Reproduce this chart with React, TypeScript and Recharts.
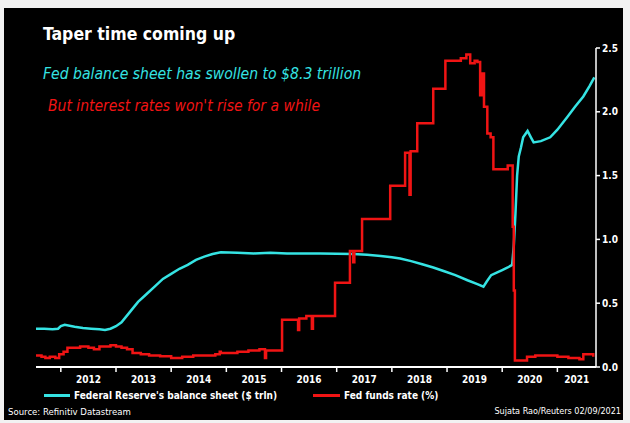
import { Line, LineChart, XAxis, YAxis } from "recharts";

// Fed balance sheet, plotted on the chart's 0-2.5 scale
const balanceDates = [
  2011.55, 2011.7, 2011.85, 2011.95, 2012.0, 2012.07, 2012.25, 2012.4, 2012.55, 2012.7, 2012.8, 2012.9,
  2013.0, 2013.1, 2013.25, 2013.4, 2013.55, 2013.7, 2013.85, 2014.0, 2014.15, 2014.3, 2014.45, 2014.6,
  2014.75, 2014.9, 2015.2, 2015.5, 2015.8, 2016.1, 2016.4, 2016.7, 2017.0, 2017.3, 2017.55, 2017.8,
  2018.0, 2018.15, 2018.35, 2018.55, 2018.75, 2018.95, 2019.15, 2019.37, 2019.55, 2019.66, 2019.72,
  2019.8, 2019.9, 2020.0, 2020.1, 2020.18, 2020.21, 2020.24, 2020.27, 2020.3, 2020.34, 2020.38, 2020.46,
  2020.52, 2020.57, 2020.7, 2020.87, 2021.0, 2021.18, 2021.32, 2021.47, 2021.58, 2021.67,
];
const balanceValues = [
  0.3, 0.3, 0.295, 0.3, 0.32, 0.33, 0.315, 0.305, 0.3, 0.295, 0.29, 0.3,
  0.32, 0.35, 0.43, 0.51, 0.57, 0.63, 0.69, 0.73, 0.77, 0.8, 0.84, 0.865,
  0.885, 0.9, 0.895, 0.89, 0.895, 0.89, 0.89, 0.89, 0.888, 0.885, 0.88, 0.87,
  0.86, 0.85, 0.83, 0.805, 0.78, 0.75, 0.72, 0.68, 0.65, 0.63, 0.67,
  0.72, 0.74, 0.76, 0.78, 0.8, 0.95, 1.2, 1.5, 1.65, 1.72, 1.8, 1.85,
  1.8, 1.76, 1.77, 1.8, 1.86, 1.96, 2.04, 2.12, 2.2, 2.27,
];

// Effective fed funds rate (%)
const rateDates = [
  2011.55, 2011.65, 2011.72, 2011.8, 2011.9, 2011.97, 2012.05, 2012.12, 2012.25, 2012.35, 2012.5, 2012.6,
  2012.7, 2012.8, 2012.9, 2013.0, 2013.1, 2013.2, 2013.3, 2013.45, 2013.6, 2013.8, 2014.0, 2014.2,
  2014.4, 2014.6, 2014.8, 2014.88, 2014.9, 2015.0, 2015.2, 2015.4, 2015.6, 2015.7, 2015.72, 2015.85,
  2016.01, 2016.2, 2016.3, 2016.32, 2016.45, 2016.55, 2016.57, 2016.75, 2016.97, 2017.24, 2017.3,
  2017.32, 2017.46, 2017.97, 2018.24, 2018.32, 2018.34, 2018.46, 2018.75, 2018.97, 2019.1, 2019.25,
  2019.35, 2019.42, 2019.5, 2019.55, 2019.6, 2019.64, 2019.67, 2019.73, 2019.79, 2019.84, 2020.0,
  2020.1, 2020.16, 2020.19, 2020.21, 2020.23, 2020.35, 2020.45, 2020.6, 2020.8, 2021.0, 2021.2,
  2021.4, 2021.47, 2021.58, 2021.65,
];
const rateValues = [
  0.09, 0.08, 0.07, 0.08, 0.07, 0.1, 0.12, 0.15, 0.15, 0.16, 0.15, 0.14,
  0.16, 0.16, 0.17, 0.16, 0.15, 0.14, 0.11, 0.1, 0.09, 0.085, 0.07, 0.08,
  0.09, 0.09, 0.1, 0.12, 0.11, 0.11, 0.12, 0.13, 0.14, 0.07, 0.13, 0.13,
  0.37, 0.37, 0.29, 0.38, 0.4, 0.3, 0.4, 0.4, 0.66, 0.91, 0.82,
  0.91, 1.16, 1.42, 1.68, 1.35, 1.69, 1.91, 2.18, 2.4, 2.4, 2.42,
  2.45, 2.38, 2.4, 2.39, 2.13, 2.3, 2.04, 1.83, 1.8, 1.55, 1.55,
  1.58, 1.58, 1.1, 0.6, 0.05, 0.05, 0.08, 0.09, 0.09, 0.08, 0.07,
  0.06, 0.1, 0.1, 0.08,
];

const yearTicks = [2012, 2013, 2014, 2015, 2016, 2017, 2018, 2019, 2020, 2021];
const rightTicks = [0, 0.5, 1, 1.5, 2, 2.5];

const title = "Taper time coming up";
const subtitleBalance = "Fed balance sheet has swollen to $8.3 trillion";
const subtitleRate = "But interest rates won't rise for a while";
const legendBalance = "Federal Reserve's balance sheet ($ trln)";
const legendRate = "Fed funds rate (%)";
const source = "Source: Refinitiv Datastream";
const credit = "Sujata Rao/Reuters 02/09/2021";

const balanceData = balanceDates.map((t, i) => ({ t, v: balanceValues[i] }));
const rateData = rateDates.map((t, i) => ({ t, v: rateValues[i] }));

const X_MIN = 2011.55;
const X_MAX = 2021.7;
const PLOT_W = 560;
const pxPerYear = PLOT_W / (X_MAX - X_MIN);

const CYAN = "#35e3e3";
const RED = "#f01414";
const FONT = "'Liberation Sans Narrow', 'DejaVu Sans Condensed', 'Roboto', sans-serif";

function YearTick(props: any) {
  const { x, y, payload } = props;
  const year = payload.value as number;
  const span = year === 2021 ? X_MAX - 2021 : 1;
  return (
    <text
      x={x + (span * pxPerYear) / 2}
      y={y}
      dy={9}
      textAnchor="middle"
      fill="#fff"
      fontSize={10}
      fontWeight="bold"
      fontFamily={FONT}
    >
      {year}
    </text>
  );
}

const legendItem = { position: "absolute" as const, top: 390, display: "flex", alignItems: "center", color: "#fff", fontSize: 10, fontWeight: "bold" as const, whiteSpace: "nowrap" as const };

export default function App() {
  return (
    <div style={{ position: "fixed", left: 0, top: 0, width: 630, height: 423, background: "#f2f2f2", fontFamily: FONT }}>
      <div style={{ position: "absolute", left: 4, top: 8, width: 619, height: 412, background: "#000" }} />
      <LineChart
        width={630}
        height={423}
        margin={{ top: 48, right: 0, bottom: 36, left: 36 }}
        style={{ position: "absolute", left: 0, top: 0 }}
      >
        <XAxis
          dataKey="t"
          type="number"
          domain={[X_MIN, X_MAX]}
          ticks={yearTicks}
          allowDataOverflow
          height={20}
          axisLine={{ stroke: "#fff", strokeWidth: 2 }}
          tickLine={{ stroke: "#fff", strokeWidth: 1.5 }}
          tickSize={5}
          tick={<YearTick />}
        />
        <YAxis
          orientation="right"
          type="number"
          domain={[0, 2.5]}
          ticks={rightTicks}
          width={34}
          axisLine={{ stroke: "#fff", strokeWidth: 1.5 }}
          tickLine={{ stroke: "#fff", strokeWidth: 1.5 }}
          tickSize={4}
          tick={{ fill: "#fff", fontSize: 10, fontWeight: "bold", fontFamily: FONT }}
          tickFormatter={(v: number) => v.toFixed(1)}
        />
        <Line
          data={balanceData}
          dataKey="v"
          type="linear"
          stroke={CYAN}
          strokeWidth={2.5}
          dot={false}
          isAnimationActive={false}
        />
        <Line
          data={rateData}
          dataKey="v"
          type="stepAfter"
          stroke={RED}
          strokeWidth={2.5}
          dot={false}
          isAnimationActive={false}
        />
      </LineChart>
      <div style={{ position: "absolute", left: 43, top: 24, color: "#fff", fontSize: 17.5, fontWeight: "bold", whiteSpace: "nowrap" }}>
        {title}
      </div>
      <div style={{ position: "absolute", left: 43, top: 65, color: CYAN, fontSize: 15.6, fontStyle: "italic", whiteSpace: "nowrap" }}>
        {subtitleBalance}
      </div>
      <div style={{ position: "absolute", left: 48, top: 97, color: RED, fontSize: 15.5, fontStyle: "italic", whiteSpace: "nowrap" }}>
        {subtitleRate}
      </div>
      <div style={{ ...legendItem, left: 44 }}>
        <span style={{ display: "inline-block", width: 26, height: 3, background: CYAN, marginRight: 4 }} />
        <span>{legendBalance}</span>
      </div>
      <div style={{ ...legendItem, left: 313 }}>
        <span style={{ display: "inline-block", width: 27, height: 3, background: RED, marginRight: 4 }} />
        <span>{legendRate}</span>
      </div>
      <div style={{ position: "absolute", left: 8, top: 406, color: "#fff", fontSize: 9.5, whiteSpace: "nowrap" }}>{source}</div>
      <div style={{ position: "absolute", right: 9, top: 406, color: "#fff", fontSize: 9, whiteSpace: "nowrap" }}>{credit}</div>
    </div>
  );
}
